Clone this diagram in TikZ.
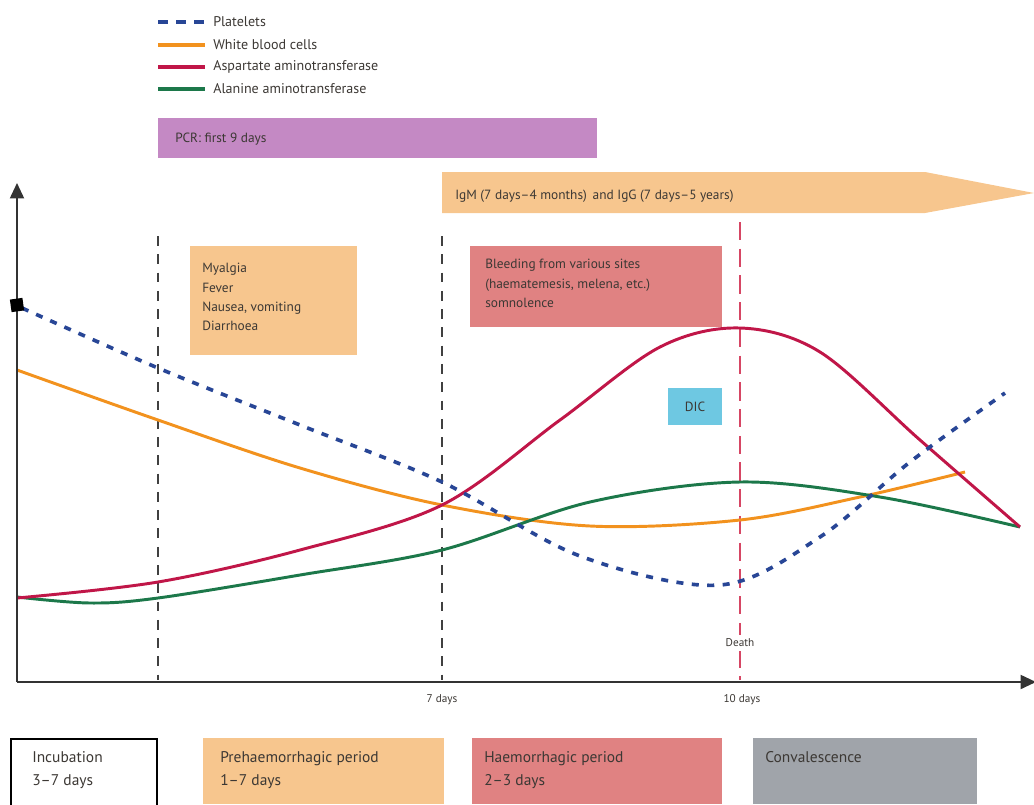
\documentclass[tikz,border=0pt]{standalone}
\usepackage{fontspec}
\setmainfont{PT Sans}
\usetikzlibrary{arrows.meta}

\definecolor{pltblue}{RGB}{40,70,150}
\definecolor{wbcorange}{RGB}{242,146,30}
\definecolor{astred}{RGB}{192,22,72}
\definecolor{altgreen}{RGB}{28,120,74}
\definecolor{pcrpurple}{RGB}{196,137,196}
\definecolor{bandorange}{RGB}{247,198,142}
\definecolor{boxpink}{RGB}{224,130,130}
\definecolor{dicblue}{RGB}{110,200,226}
\definecolor{boxgray}{RGB}{160,164,170}
\definecolor{txtgray}{RGB}{60,56,52}
\definecolor{deathred}{RGB}{214,70,100}

\tikzset{
	lbl/.style={inner sep=0pt, text=txtgray, font=\fontsize{9.5}{13.8}\selectfont},
	leglbl/.style={inner sep=0pt, text=txtgray, anchor=west, font=\fontsize{10}{12}\selectfont},
	periodlbl/.style={inner sep=0pt, text=txtgray, anchor=north west, align=left, font=\fontsize{11}{16.3}\selectfont},
	ticklbl/.style={inner sep=0pt, text=txtgray, font=\fontsize{8}{10}\selectfont},
	curve/.style={line width=2.1pt, smooth, tension=0.55}
}

\begin{document}
\begin{tikzpicture}[x=0.025cm,y=-0.025cm]
	\useasboundingbox (0,0) rectangle (1034,804);

	% legend
	\draw[pltblue, line width=2.2pt] (158,22) -- (168,22) (176,22) -- (186,22) (194,22) -- (204,22);
	\draw[wbcorange, line width=2.2pt] (158,45) -- (205,45);
	\draw[astred, line width=2.2pt] (158,67) -- (205,67);
	\draw[altgreen, line width=2.2pt] (158,89) -- (205,89);
	\node[leglbl] (legplt) at (213,22) {Platelets};
	\node[leglbl] (legwbc) at (213,45) {White blood cells};
	\node[leglbl] (legast) at (213,67) {Aspartate aminotransferase};
	\node[leglbl] (legalt) at (213,89) {Alanine aminotransferase};

	% diagnostics
	\fill[pcrpurple] (158,118) rectangle (597,158);
	\node[lbl, anchor=west] (pcr) at (175,139) {PCR: first 9 days};
	\fill[bandorange] (442,172) -- (925,172) -- (1034,193) -- (925,213) -- (442,213) -- cycle;
	\node[lbl, anchor=west] (igm) at (455,196) {IgM (7 days–4 months)\, and IgG (7 days–5 years)};

	% symptoms
	\fill[bandorange] (190,246) rectangle (357,355);
	\node[lbl, anchor=north west, align=left] (sympt) at (202,263) {Myalgia\\Fever\\Nausea, vomiting\\Diarrhoea};
	\fill[boxpink] (470,246) rectangle (722,327);
	\node[lbl, anchor=north west, align=left] (bleed) at (485,259) {Bleeding from various sites\\(haematemesis, melena, etc.)\\somnolence};
	\fill[dicblue] (668,388) rectangle (722,425);
	\node[lbl] (dic) at (695,407) {DIC};

	% time markers
	\draw[black!75, line width=1.1pt, dash pattern=on 7pt off 6pt] (158,236) -- (158,680);
	\draw[black!75, line width=1.1pt, dash pattern=on 7pt off 6pt] (442,236) -- (442,680);
	\draw[deathred, line width=1.1pt, dash pattern=on 13pt off 6pt] (740,222) -- (740,680);
	\node[ticklbl, fill=white, inner sep=3pt] (death) at (740,643) {Death};

	% curves
	\draw[wbcorange, curve] plot coordinates {(17,370) (158,420) (300,468) (442,505) (590,526) (740,520) (860,497) (965,472)};
	\draw[altgreen, curve] plot coordinates {(17,597) (90,603) (158,598) (300,575) (442,550) (590,502) (740,482) (880,497) (1020,527)};
	\draw[astred, curve] plot coordinates {(17,598) (158,582) (300,550) (442,505) (560,420) (660,347) (740,328) (820,352) (920,440) (1020,527)};
	\draw[pltblue, line width=2.6pt, smooth, tension=0.55, dash pattern=on 5pt off 6pt] plot coordinates {(22,308) (158,368) (300,425) (442,482) (580,556) (720,585) (820,537) (910,462) (1005,393)};

	% axes
	\draw[black!80, line width=1.4pt, -{Triangle[width=10pt,length=11pt]}] (17,682) -- (17,183);
	\draw[black!80, line width=1.4pt, -{Triangle[width=10pt,length=11pt]}] (17,682) -- (1036,682);
	\node[fill=black, rotate=8, minimum size=9pt, inner sep=0pt] (start) at (17,305) {};
	\node[ticklbl] (d7) at (442,700) {7 days};
	\node[ticklbl] (d10) at (742,700) {10 days};

	% periods
	\draw[black, line width=1.2pt] (11,739) rectangle (157,810);
	\node[periodlbl] (incub) at (32,751) {Incubation\\3–7 days};
	\fill[bandorange] (203,738) rectangle (444,804);
	\node[periodlbl] (prehaem) at (220,751) {Prehaemorrhagic period\\1–7 days};
	\fill[boxpink] (472,738) rectangle (722,804);
	\node[periodlbl] (haem) at (484,751) {Haemorrhagic period\\2–3 days};
	\fill[boxgray] (753,738) rectangle (977,804);
	\node[periodlbl] (conval) at (765,751) {Convalescence};
\end{tikzpicture}
\end{document}
